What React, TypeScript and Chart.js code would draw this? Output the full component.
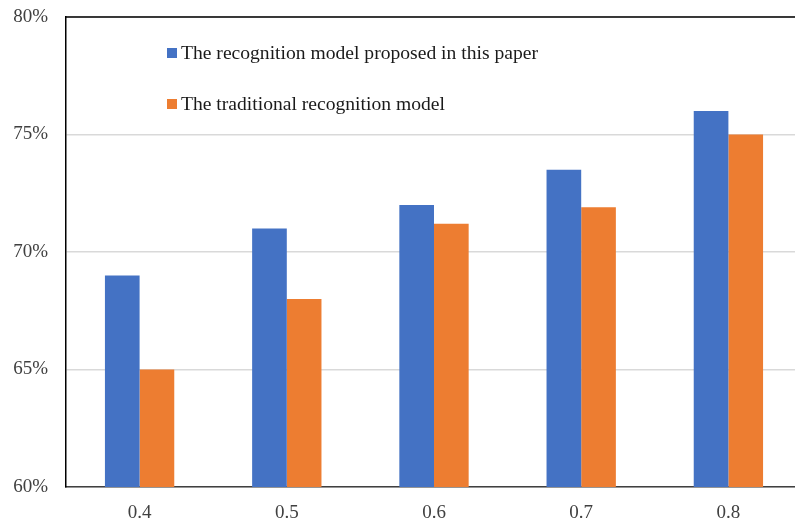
import React, { useEffect, useRef } from "react";
import { Chart, registerables } from "chart.js";

Chart.register(...registerables);

const categories = ["0.4", "0.5", "0.6", "0.7", "0.8"];
const proposedModel = [69, 71, 72, 73.5, 76];
const traditionalModel = [65, 68, 71.2, 71.9, 75];
const seriesNames = [
  "The recognition model proposed in this paper",
  "The traditional recognition model",
];
const seriesColors = ["#4472C4", "#ED7D31"];

const FONT = "'Liberation Serif', 'Times New Roman', serif";

// Frame line along the top of the plot area and an in-plot legend
const framePlugin = {
  id: "frameAndLegend",
  afterDatasetsDraw(chart: any) {
    const { ctx, chartArea } = chart;
    ctx.save();
    ctx.strokeStyle = "#000000";
    ctx.lineWidth = 1.5;
    ctx.beginPath();
    ctx.moveTo(chartArea.left, chartArea.top);
    ctx.lineTo(chartArea.right, chartArea.top);
    ctx.stroke();

    ctx.font = `19.6px ${FONT}`;
    ctx.textBaseline = "middle";
    ctx.textAlign = "left";
    const rows = [53, 104];
    seriesNames.forEach((name, i) => {
      const y = rows[i];
      ctx.fillStyle = seriesColors[i];
      ctx.fillRect(167, y - 5, 10, 10);
      ctx.fillStyle = "#1a1a1a";
      ctx.fillText(name, 181, y + 1);
    });
    ctx.restore();
  },
};

export default function App() {
  const canvasRef = useRef<HTMLCanvasElement | null>(null);

  useEffect(() => {
    document.body.style.margin = "0";
    document.body.style.overflow = "hidden";
    const canvas = canvasRef.current;
    if (!canvas) return;
    const chart = new Chart(canvas, {
      type: "bar",
      data: {
        labels: categories,
        datasets: [
          {
            label: seriesNames[0],
            data: proposedModel,
            backgroundColor: seriesColors[0],
            barPercentage: 1,
            categoryPercentage: 0.471,
          },
          {
            label: seriesNames[1],
            data: traditionalModel,
            backgroundColor: seriesColors[1],
            barPercentage: 1,
            categoryPercentage: 0.471,
          },
        ],
      },
      options: {
        responsive: false,
        animation: false,
        layout: { padding: { left: 0, right: 8, top: 0, bottom: 0 } },
        plugins: {
          legend: { display: false },
          tooltip: { enabled: false },
        },
        scales: {
          x: {
            grid: { display: false },
            border: { display: true, color: "#404040", width: 1.5 },
            ticks: {
              color: "#404040",
              font: { family: FONT, size: 19 },
              padding: 7,
            },
            afterFit(scale: any) {
              scale.height = 38;
            },
          },
          y: {
            min: 60,
            max: 80,
            ticks: {
              stepSize: 5,
              color: "#404040",
              font: { family: FONT, size: 19 },
              padding: 18,
              callback: (v: any) => `${v}%`,
            },
            grid: {
              color: "#d9d9d9",
              lineWidth: 1.5,
              drawTicks: false,
            },
            border: { display: true, color: "#000000", width: 1.5 },
            afterFit(scale: any) {
              scale.width = 66;
              scale.paddingTop = 17;
            },
          },
        },
      },
      plugins: [framePlugin],
    });
    return () => chart.destroy();
  }, []);

  return (
    <div
      style={{
        position: "fixed",
        left: 0,
        top: 0,
        width: 795,
        height: 525,
        overflow: "hidden",
        background: "#ffffff",
      }}
    >
      <canvas ref={canvasRef} width={810} height={525} style={{ display: "block" }} />
    </div>
  );
}
